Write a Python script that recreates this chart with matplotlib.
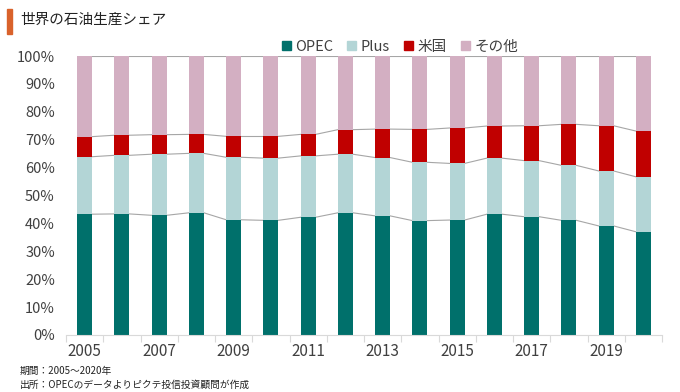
import matplotlib.pyplot as plt
import matplotlib as mpl
import matplotlib.patches as mpatches
import numpy as np

plt.rcParams['font.family'] = ['Noto Sans CJK JP', 'DejaVu Sans']

years = list(range(2005, 2021))
opec = [43.3, 43.4, 42.9, 43.8, 41.3, 41.1, 42.2, 43.8, 42.7, 41.0, 41.2, 43.3, 42.4, 41.1, 39.1, 37.0]
plus = [20.6, 21.0, 21.9, 21.3, 22.4, 22.3, 22.0, 21.0, 20.9, 20.9, 20.3, 20.1, 20.1, 19.7, 19.7, 19.7]
usa = [7.2, 7.2, 7.0, 6.8, 7.5, 7.8, 7.7, 8.8, 10.2, 11.8, 12.7, 11.5, 12.5, 14.7, 16.2, 16.4]
other = [100 - a - b - c for a, b, c in zip(opec, plus, usa)]

series_names = ['OPEC', 'Plus', '米国', 'その他']
series_vals = [opec, plus, usa, other]
colors = ['#00706B', '#B3D5D6', '#C00000', '#D3AFC2']


def fig_a(ax):
    x = np.arange(len(years))
    w = 0.4
    bottom = np.zeros(len(years))
    tops = []
    for name, vals, c in zip(series_names, series_vals, colors):
        vals = np.array(vals) / 100
        ax.bar(x, vals, w, bottom=bottom, color=c, label=name, zorder=2)
        bottom = bottom + vals
        tops.append(bottom.copy())

    # series lines between bars
    for top in tops:
        for i in range(len(x) - 1):
            ax.plot([x[i] + w / 2, x[i + 1] - w / 2], [top[i], top[i + 1]],
                    color='#A6A6A6', lw=0.8, zorder=1)

    ax.set_xlim(-0.5, len(years) - 0.5)
    ax.set_ylim(0, 1)
    ax.set_yticks(np.arange(0, 1.01, 0.1))
    ax.set_yticklabels([f'{int(round(v * 100))}%' for v in np.arange(0, 1.01, 0.1)])
    ax.set_xticks(x[::2])
    ax.set_xticklabels([str(y) for y in years[::2]])
    ax.set_xticks(np.arange(-0.5, len(years), 1), minor=True)
    ax.tick_params(axis='x', which='major', length=0, labelsize=11, pad=6, colors='#404040')
    ax.tick_params(axis='x', which='minor', length=5, color='#D9D9D9', width=0.8)
    ax.tick_params(axis='y', length=0, labelsize=10.5, pad=8, colors='#404040')
    for s in ['top', 'right', 'left']:
        ax.spines[s].set_visible(False)
    ax.spines['bottom'].set_color('#D9D9D9')
    ax.spines['bottom'].set_linewidth(0.8)


def main():
    fig = plt.figure(figsize=(6.8, 3.92), dpi=100)
    ax = fig.add_axes([66 / 680, 1 - 335 / 392, 596 / 680, 279 / 392])
    fig_a(ax)

    handles = [mpatches.Patch(color=c) for c in colors]
    fig.legend(handles, series_names, loc='center', bbox_to_anchor=(400 / 680, 1 - 47 / 392),
               ncol=4, frameon=False, fontsize=10.5, handlelength=0.6, handleheight=0.6,
               handletextpad=0.3, columnspacing=1.0, labelcolor='#404040')

    fig.patches.append(mpatches.Rectangle((7 / 680, 1 - 34 / 392), 5 / 680, 25 / 392,
                                          transform=fig.transFigure, color='#D9622B'))
    fig.text(20 / 680, 1 - 20 / 392, '世界の石油生産シェア', fontsize=10.5, va='center', color='#222222')
    fig.text(20 / 680, 1 - 371 / 392, '期間：2005～2020年', fontsize=7, va='center', color='#222222')
    fig.text(20 / 680, 1 - 385 / 392, '出所：OPECのデータよりピクテ投信投資顧問が作成', fontsize=7,
             va='center', color='#222222')

    fig.savefig('out.png', dpi=100)


main()
